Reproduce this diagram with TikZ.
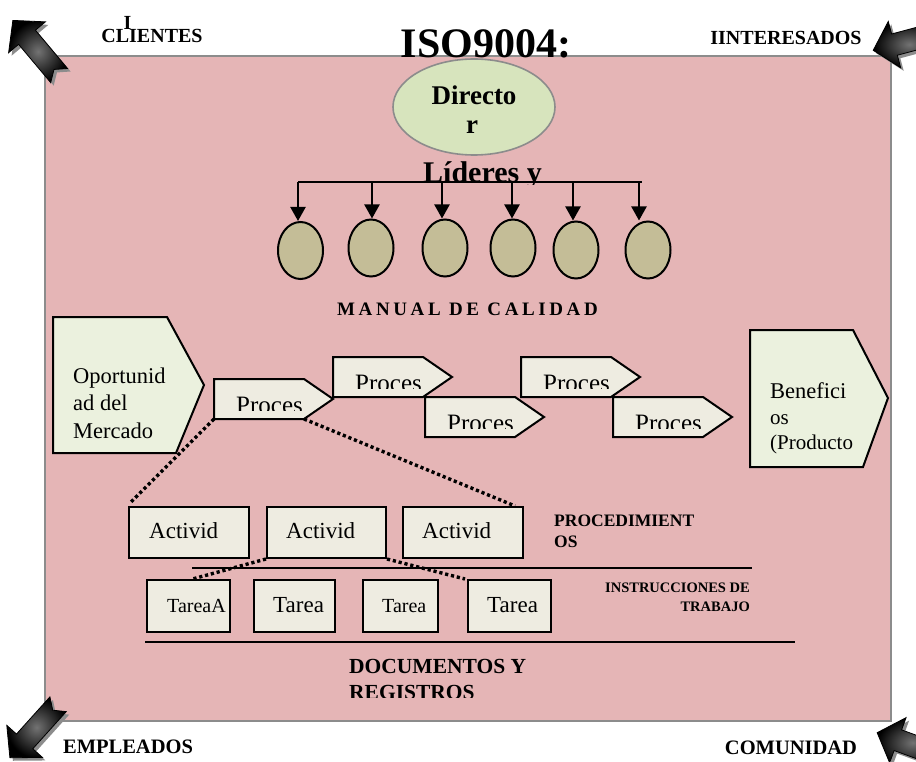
\documentclass[tikz,border=0pt]{standalone}
\usepackage{fontspec}
\setmainfont{Liberation Serif}
\usetikzlibrary{arrows.meta,shapes.geometric}

\definecolor{panelfill}{HTML}{E5B5B6}
\definecolor{panelline}{HTML}{8C8C8C}
\definecolor{dirfill}{HTML}{D7E4BD}
\definecolor{leadfill}{HTML}{C4BD97}
\definecolor{greenfill}{HTML}{EBF1DE}
\definecolor{boxfill}{HTML}{EEECE1}

\newcommand\fsz[1]{\fontsize{#1}{#1}\selectfont}

% block arrow in the corners: tip at +x, centred on the origin
\newcommand\blockarrowpath{(-36,-11) -- (14,-11) -- (14,-24) -- (36,0) -- (14,24) -- (14,11) -- (-36,11) -- (-28,0) -- cycle}
\newcommand\cornerarrow[3]{%
  \fill[black!45, shift={(#1+3,#2+3)}, rotate=#3] \blockarrowpath;
  \shade[shift={(#1,#2)}, rotate=#3, inner color=black!55, outer color=black, draw=black, line width=0.8pt] \blockarrowpath;
}

% process pentagon: name, x, y of top-left corner
\newcommand\procshape[3]{%
  \draw[shapeline] (#2,#3) -- (#2+90,#3) -- (#2+119,#3+20) -- (#2+90,#3+40) -- (#2,#3+40) -- cycle;
  \coordinate (#1sw) at (#2,#3+40);
  \coordinate (#1se) at (#2+90,#3+40);
  \begin{scope}
    \clip (#2,#3) rectangle (#2+119,#3+31);
    \node[txt, font=\fsz{25}] (#1txt) at (#2+22,#3+34.5) {Proces};
  \end{scope}
}

\begin{document}
\begin{tikzpicture}[x=1pt,y=-1pt,
  shapeline/.style={draw=black, line width=2pt, fill=boxfill},
  leader/.style={ellipse, draw=black, line width=2pt, fill=leadfill, minimum width=45pt, minimum height=57pt, inner sep=0pt},
  busline/.style={line width=2.2pt},
  droparrow/.style={line width=2.2pt, -{Triangle[width=15pt,length=14pt]}},
  dotline/.style={line width=3.4pt, dash pattern=on 3.2pt off 2.8pt},
  txt/.style={inner sep=0pt, anchor=base west},
  boldtxt/.style={inner sep=0pt, anchor=base west, font=\bfseries},
  boxnode/.style={draw=black, line width=2pt, fill=boxfill, inner sep=0pt, anchor=north west},
  rule/.style={line width=1.9pt}
]
\clip (0,0) rectangle (916,762);
\fill[white] (0,0) rectangle (916,762);

% main panel
\draw[fill=panelfill, draw=panelline, line width=2.2pt] (45,56) rectangle (891,721);

% title over the panel edge
\node[inner sep=0pt, anchor=base, font=\fsz{42}\bfseries] (title) at (486,58) {ISO9004:};

% corner arrows
\cornerarrow{36}{48}{130}
\cornerarrow{34}{731}{228}
\cornerarrow{908}{41}{195}
\cornerarrow{911}{745}{160}

% corner labels
\node[inner sep=0pt, anchor=base, font=\fsz{20}\bfseries] (clientes) at (152,43) {CLIENTES};
\node[inner sep=0pt, anchor=base, font=\fsz{20}\bfseries] (clientesI) at (127.5,30) {I};
\node[inner sep=0pt, anchor=base, font=\fsz{20}\bfseries] (interesados) at (786,45) {IINTERESADOS};
\node[inner sep=0pt, anchor=base, font=\fsz{20.5}\bfseries] (empleados) at (128,753) {EMPLEADOS};
\node[inner sep=0pt, anchor=base, font=\fsz{20.5}\bfseries] (comunidad) at (791,754) {COMUNIDAD};

% director
\node[ellipse, draw=panelline, line width=1.6pt, fill=dirfill, minimum width=162pt, minimum height=96pt, inner sep=0pt] (dir) at (474,107) {};
\node[inner sep=0pt, anchor=base, font=\fsz{27}\bfseries] (dirA) at (474,105) {Directo};
\node[inner sep=0pt, anchor=base, font=\fsz{27}\bfseries] (dirB) at (472,134) {r};

% leaders
\node[leader] (L1) at (300.5,250.5) {};
\node[leader] (L2) at (371,248) {};
\node[leader] (L3) at (445,248) {};
\node[leader] (L4) at (513,248) {};
\node[leader] (L5) at (576,250) {};
\node[leader] (L6) at (648,250) {};

\coordinate (b1) at (298,182);
\coordinate (b2) at (372,182);
\coordinate (b3) at (442,182);
\coordinate (b4) at (512,182);
\coordinate (b5) at (573,182);
\coordinate (b6) at (639,182);
\coordinate (bend) at (642,182);
\draw[busline] (b1) -- (bend);
\foreach \i in {1,...,6} {
  \draw[droparrow] (b\i) -- (b\i |- L\i.north);
}

\begin{scope}
  \clip (400,150) rectangle (600,185);
  \node[boldtxt, font=\fsz{30}\bfseries] (lideres) at (423,183) {Líderes y};
\end{scope}

\node[inner sep=0pt, anchor=base west, font=\fsz{19}\bfseries\addfontfeature{LetterSpace=19}] (manual) at (337,315) {MANUAL DE CALIDAD};

% opportunity and benefit pentagons
\draw[draw=black, line width=2pt, fill=greenfill] (53,317) -- (167,317) -- (204,385) -- (176,453) -- (53,453) -- cycle;
\node[txt, font=\fsz{22.5}] (op1) at (73,383) {Oportunid};
\node[txt, font=\fsz{22.5}] (op2) at (73,410) {ad del};
\node[txt, font=\fsz{22.5}] (op3) at (73,438) {Mercado};

\draw[draw=black, line width=2pt, fill=greenfill] (750,330) -- (853,330) -- (888,398) -- (863,467) -- (750,467) -- cycle;
\node[txt, font=\fsz{22.5}] (be1) at (770,398) {Benefici};
\node[txt, font=\fsz{21}] (be2) at (770,424) {os};
\node[txt, font=\fsz{21}] (be3) at (770,449) {(Producto};

% process chain
\procshape{p1}{214}{379}
\procshape{p2}{333}{357}
\procshape{p3}{425}{397}
\procshape{p4}{521}{357}
\procshape{p5}{613}{397}

% activities
\node[boxnode, minimum width=120pt, minimum height=51pt] (a1) at (128,506) {};
\node[boxnode, minimum width=119pt, minimum height=51pt] (a2) at (266,506) {};
\node[boxnode, minimum width=120pt, minimum height=51pt] (a3) at (402,506) {};
\node[txt, font=\fsz{23}] (a1t) at (149,538) {Activid};
\node[txt, font=\fsz{23}] (a2t) at (286,538) {Activid};
\node[txt, font=\fsz{23}] (a3t) at (422,538) {Activid};

\draw[dotline] (p1sw) -- ([xshift=2pt,yshift=3pt]a1.north west);
\draw[dotline] (p1se) -- ([xshift=-9pt]a3.north east);

% separators
\draw[rule] (192,568) -- (752,568);
\draw[rule] (145,642) -- (795,642);

% tasks
\node[boxnode, minimum width=83pt, minimum height=52pt] (t1) at (146,579) {};
\node[boxnode, minimum width=81pt, minimum height=52pt] (t2) at (253,579) {};
\node[boxnode, minimum width=75pt, minimum height=52pt] (t3) at (362,579) {};
\node[boxnode, minimum width=83pt, minimum height=52pt] (t4) at (467,579) {};
\node[txt, font=\fsz{20}] (t1t) at (167,612) {TareaA};
\node[txt, font=\fsz{23}] (t2t) at (273,612) {Tarea};
\node[txt, font=\fsz{20}] (t3t) at (382,612) {Tarea};
\node[txt, font=\fsz{23}] (t4t) at (487,612) {Tarea};

\draw[dotline] (a2.south west) -- ([xshift=4pt]t1.north);
\draw[dotline] (a2.south east) -- ([xshift=-2pt]t4.north west);

% level labels
\node[boldtxt, font=\fsz{17.5}\bfseries] (proc1) at (554,526) {PROCEDIMIENT};
\node[boldtxt, font=\fsz{17.5}\bfseries] (proc2) at (554,547) {OS};
\node[inner sep=0pt, anchor=base east, font=\fsz{14.5}\bfseries] (inst1) at (750,592) {INSTRUCCIONES DE};
\node[inner sep=0pt, anchor=base east, font=\fsz{14.5}\bfseries] (inst2) at (750,611) {TRABAJO};
\node[boldtxt, font=\fsz{21.5}\bfseries] (doc1) at (349,673) {DOCUMENTOS Y};
\begin{scope}
  \clip (340,676) rectangle (600,697);
  \node[boldtxt, font=\fsz{21.5}\bfseries] (doc2) at (349,699) {REGISTROS};
\end{scope}
\end{tikzpicture}
\end{document}
